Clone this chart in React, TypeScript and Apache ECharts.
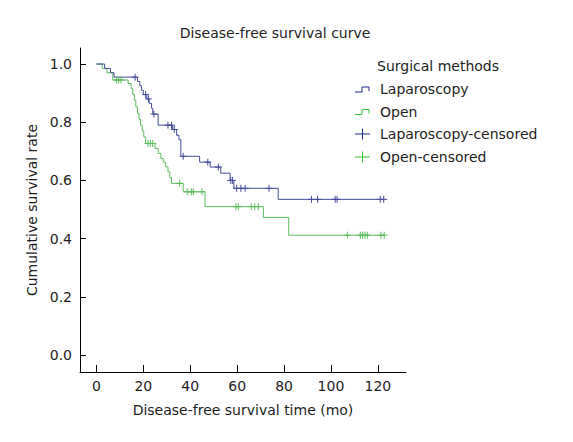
import React, { useEffect, useRef } from "react";
import * as echarts from "echarts";

// Laparoscopy Kaplan-Meier steps
const lapTimes = [0, 3.5, 6, 7.5, 17.5, 18.5, 19.2, 20, 21.5, 22.5, 23.5, 24, 26.3, 32.5, 34.2, 35.2, 36, 44, 48.5, 53, 57, 58.6, 77.5, 123];
const lapSurv = [1.0, 0.985, 0.97, 0.955, 0.94, 0.925, 0.91, 0.895, 0.88, 0.865, 0.848, 0.828, 0.79, 0.775, 0.755, 0.74, 0.683, 0.663, 0.646, 0.625, 0.6, 0.573, 0.535, 0.535];
// Laparoscopy censored
const lapCensTimes = [16.5, 21, 22.2, 24.5, 30.5, 32, 33.2, 37, 47.5, 52, 57.3, 58.0, 59.8, 61.6, 63.4, 73.6, 91.7, 94.3, 101.8, 102.6, 121, 122.5];
const lapCensSurv = [0.955, 0.895, 0.88, 0.828, 0.79, 0.79, 0.775, 0.683, 0.663, 0.646, 0.6, 0.6, 0.573, 0.573, 0.573, 0.573, 0.535, 0.535, 0.535, 0.535, 0.535, 0.535];

// Open Kaplan-Meier steps
const openTimes = [0, 2.5, 4.5, 7, 13.5, 14.8, 15.5, 16.2, 16.8, 17.5, 18.2, 18.8, 19.5, 20.2, 21, 25, 26.3, 27.5, 28.5, 29.5, 30.5, 31.3, 32, 37, 46.3, 71.2, 82, 123];
const openSurv = [1.0, 0.985, 0.97, 0.945, 0.933, 0.915, 0.895, 0.875, 0.853, 0.83, 0.81, 0.79, 0.77, 0.75, 0.727, 0.71, 0.693, 0.676, 0.663, 0.647, 0.63, 0.61, 0.59, 0.561, 0.51, 0.473, 0.412, 0.412];
// Open censored
const openCensTimes = [8.5, 9.5, 10.5, 22, 23, 24, 35.5, 38.7, 40.5, 41.3, 45, 59.5, 60.5, 66, 67.5, 69, 107, 112.5, 113.5, 114.5, 115.5, 121.3, 122.7];
const openCensSurv = [0.945, 0.945, 0.945, 0.727, 0.727, 0.727, 0.59, 0.561, 0.561, 0.561, 0.561, 0.51, 0.51, 0.51, 0.51, 0.51, 0.412, 0.412, 0.412, 0.412, 0.412, 0.412, 0.412];

const yTicks = [0, 0.2, 0.4, 0.6, 0.8, 1.0];
const xTicks = [0, 20, 40, 60, 80, 100, 120];

const legendNames = ["Laparoscopy", "Open", "Laparoscopy-censored", "Open-censored"];

const BLUE = "#444c9a";
const GREEN = "#5cbb5c";
const BLUE_LEG = "#1c2a8c";
const GREEN_LEG = "#33c233";
const FONT = "'DejaVu Sans', Verdana, sans-serif";
const FS = 14;
const TXT = "#1e1e1e";

const zip = (a: number[], b: number[]) => a.map((v, i) => [v, b[i]]);

export default function App() {
  const ref = useRef<HTMLDivElement>(null);
  useEffect(() => {
    if (!ref.current) return;
    const chart = echarts.init(ref.current, null, { renderer: "svg" });
    const plus = "path://M0,5 L10,5 M5,0 L5,10";
    const rowY = [89, 111.5, 134, 157];
    const legendGraphics: any[] = [];
    legendGraphics.push({
      type: "text",
      x: 377,
      y: 66,
      style: { text: "Surgical methods", font: `${FS}px ${FONT}`, fill: TXT, textVerticalAlign: "middle" },
    });
    legendNames.forEach((name, i) => {
      const y = rowY[i];
      const col = i % 2 === 0 ? BLUE_LEG : GREEN_LEG;
      if (i < 2) {
        legendGraphics.push({
          type: "polyline",
          shape: { points: [[355, y + 3], [362, y + 3], [362, y - 2], [369, y - 2], [369, y + 2]] },
          style: { stroke: col, lineWidth: 1, fill: "none" },
        });
      } else {
        legendGraphics.push({
          type: "line",
          shape: { x1: 355, y1: y, x2: 370, y2: y },
          style: { stroke: col, lineWidth: 1 },
        });
        legendGraphics.push({
          type: "line",
          shape: { x1: 362.5, y1: y - 5.5, x2: 362.5, y2: y + 5.5 },
          style: { stroke: col, lineWidth: 1 },
        });
      }
      legendGraphics.push({
        type: "text",
        x: 380,
        y: y,
        style: { text: name, font: `${FS}px ${FONT}`, fill: TXT, textVerticalAlign: "middle" },
      });
    });

    chart.setOption({
      animation: false,
      backgroundColor: "#ffffff",
      textStyle: { fontFamily: FONT },
      graphic: [
        {
          type: "text",
          x: 275,
          y: 33,
          style: {
            text: "Disease-free survival curve",
            font: `${FS}px ${FONT}`,
            fill: TXT,
            textAlign: "center",
            textVerticalAlign: "middle",
          },
        },
        ...legendGraphics,
      ],
      grid: { left: 80, right: 167, top: 48, bottom: 70 },
      xAxis: {
        type: "value",
        min: -7,
        max: 132,
        name: "Disease-free survival time (mo)",
        nameLocation: "middle",
        nameGap: 31,
        nameTextStyle: { fontSize: FS, color: TXT, fontFamily: FONT },
        axisLine: { onZero: false, lineStyle: { color: "#000", width: 1 } },
        axisTick: { show: true, inside: true, length: 7, customValues: xTicks, lineStyle: { color: "#000" } },
        axisLabel: { customValues: xTicks, fontSize: FS, color: TXT, margin: 7, fontFamily: FONT },
        splitLine: { show: false },
      },
      yAxis: {
        type: "value",
        min: -0.058,
        max: 1.055,
        name: "Cumulative survival rate",
        nameLocation: "middle",
        nameGap: 39,
        nameTextStyle: { fontSize: FS, color: TXT, fontFamily: FONT },
        axisLine: { show: true, onZero: false, lineStyle: { color: "#000", width: 1 } },
        axisTick: { show: true, inside: true, length: 6, customValues: yTicks, lineStyle: { color: "#000" } },
        axisLabel: {
          customValues: yTicks,
          fontSize: FS,
          color: TXT,
          margin: 8,
          fontFamily: FONT,
          formatter: (v: number) => v.toFixed(1),
        },
        splitLine: { show: false },
      },
      series: [
        {
          name: "Laparoscopy",
          type: "line",
          step: "end",
          showSymbol: false,
          data: zip(lapTimes, lapSurv),
          lineStyle: { color: BLUE, width: 1 },
          itemStyle: { color: BLUE },
          z: 3,
        },
        {
          name: "Open",
          type: "line",
          step: "end",
          showSymbol: false,
          data: zip(openTimes, openSurv),
          lineStyle: { color: GREEN, width: 1 },
          itemStyle: { color: GREEN },
          z: 2,
        },
        {
          name: "Laparoscopy-censored",
          type: "scatter",
          symbol: plus,
          symbolSize: 7,
          data: zip(lapCensTimes, lapCensSurv),
          itemStyle: { color: "none", borderColor: BLUE, borderWidth: 1, opacity: 1 },
          z: 4,
        },
        {
          name: "Open-censored",
          type: "scatter",
          symbol: plus,
          symbolSize: 7,
          data: zip(openCensTimes, openCensSurv),
          itemStyle: { color: "none", borderColor: GREEN, borderWidth: 1, opacity: 1 },
          z: 4,
        },
      ],
    });
    return () => chart.dispose();
  }, []);
  return (
    <div
      ref={ref}
      style={{ position: "fixed", left: 0, top: 0, width: 573, height: 442, background: "#fff" }}
    />
  );
}
